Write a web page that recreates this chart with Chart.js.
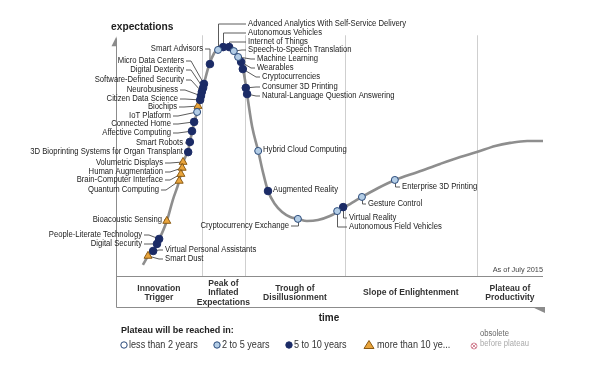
<!DOCTYPE html>
<html>
<head>
<meta charset="utf-8">
<script src="https://cdn.jsdelivr.net/npm/chart.js@4"></script>
<style>
  html, body { margin: 0; padding: 0; background: #fff; }
  canvas { display: block; }
</style>
</head>
<body>
<canvas id="hype" width="605" height="366"></canvas>
<script>
// hype curve (time 0-100, expectations 0-100)
const curveTime = [6.3,7.5,8.7,9.8,11.9,13.3,14.8,15.7,16.9,18.0,19.0,19.9,20.6,21.8,23.0,24.1,25.8,27.2,28.1,29.0,29.7,30.4,30.9,31.9,33.3,34.4,35.6,37.2,38.9,40.8,42.6,44.7,47.3,50.1,51.8,53.2,54.8,57.6,61.4,65.3,70.7,75.9,80.6,84.5,88.8,92.3,96.3,100];
const curveExpect = [4.7,8.5,11.0,14.4,23.3,32.2,40.3,47.9,53.4,62.7,69.5,75.8,81.4,89.4,94.5,96.6,97.5,96.6,94.5,91.5,88.1,80.9,74.6,63.1,53.0,44.1,36.0,30.5,27.1,25.0,24.2,23.3,23.7,25.4,27.1,28.8,30.5,33.5,37.3,40.7,44.1,47.5,50.4,52.5,55.1,56.4,57.2,57.2];

// technologies: name, position on curve, years to plateau (index into plateauClasses)
const techNames = [
  'Smart Advisors','Micro Data Centers','Digital Dexterity','Software-Defined Security','Neurobusiness',
  'Citizen Data Science','Biochips','IoT Platform','Connected Home','Affective Computing',
  'Smart Robots','3D Bioprinting Systems for Organ Transplant','Volumetric Displays','Human Augmentation','Brain-Computer Interface',
  'Quantum Computing','Bioacoustic Sensing','People-Literate Technology','Digital Security','Virtual Personal Assistants',
  'Smart Dust','Advanced Analytics With Self-Service Delivery','Autonomous Vehicles','Internet of Things','Speech-to-Speech Translation',
  'Machine Learning','Wearables','Cryptocurrencies','Consumer 3D Printing','Natural-Language Question Answering',
  'Hybrid Cloud Computing','Augmented Reality','Cryptocurrency Exchange','Autonomous Field Vehicles','Virtual Reality',
  'Gesture Control','Enterprise 3D Printing'
];
const techTime = [
  22.0,20.6,20.4,20.1,19.9, 19.7,19.2,19.0,18.3,17.8, 17.3,16.9,15.7,15.5,15.2,
  14.8,11.9,10.1,9.6,8.7, 7.5,23.9,25.1,26.5,27.6, 28.6,29.3,29.7,30.4,30.7,
  33.3,35.6,42.6,51.8,53.2, 57.6,65.3
];
const techExpect = [
  89.8,81.4,79.7,78.0,76.3, 74.6,72.0,69.5,65.3,61.4, 56.8,52.5,48.3,45.8,43.2,
  40.3,23.3,15.7,13.6,10.6, 8.5,95.8,97.0,97.0,95.3, 92.8,90.7,87.7,79.7,77.1,
  53.0,36.0,24.2,27.5,29.2, 33.5,40.7
];
const techPlateau = [
  2,2,2,2,2, 2,3,1,2,2, 2,2,3,3,3,
  3,3,2,2,2, 3,1,2,2,1, 1,2,2,2,2,
  1,2,1,1,2, 1,1
];

const plateauClasses = ['less than 2 years','2 to 5 years','5 to 10 years','more than 10 ye...'];
const phaseNames = [['Innovation','Trigger'],['Peak of','Inflated','Expectations'],['Trough of','Disillusionment'],['Slope of Enlightenment'],['Plateau of','Productivity']];
const phaseEnds = [20.1, 30.2, 53.6, 84.5, 100];

// styling
const NAVY = '#1b2b66';
const markerStyle = [
  { pointStyle: 'circle', radius: 3.3, bg: '#ffffff', border: '#2a4a7a' },
  { pointStyle: 'circle', radius: 3.5, bg: '#b3cde6', border: '#2a4a7a' },
  { pointStyle: 'circle', radius: 3.8, bg: NAVY, border: NAVY },
  { pointStyle: 'triangle', radius: 4.6, bg: '#eaa53c', border: '#8a5a14' }
];

// label placement in pixels: [kind, x, y]
const labelLayout = {
  'Smart Advisors': ['L', 203, 49],
  'Micro Data Centers': ['L', 184, 61],
  'Digital Dexterity': ['L', 184, 70],
  'Software-Defined Security': ['L', 184, 80],
  'Neurobusiness': ['L', 178, 90],
  'Citizen Data Science': ['L', 178, 99],
  'Biochips': ['L', 177, 107],
  'IoT Platform': ['L', 171, 116],
  'Connected Home': ['L', 171, 124],
  'Affective Computing': ['L', 171, 133],
  'Smart Robots': ['L', 183, 143],
  '3D Bioprinting Systems for Organ Transplant': ['L', 183, 152],
  'Volumetric Displays': ['L', 163, 163],
  'Human Augmentation': ['L', 163, 172],
  'Brain-Computer Interface': ['L', 163, 180],
  'Quantum Computing': ['L', 159, 190],
  'Bioacoustic Sensing': ['L', 162, 220],
  'People-Literate Technology': ['L', 142, 235],
  'Digital Security': ['L', 142, 244],
  'Virtual Personal Assistants': ['R', 165, 250],
  'Smart Dust': ['R', 165, 259],
  'Advanced Analytics With Self-Service Delivery': ['T', 248, 24],
  'Autonomous Vehicles': ['T', 248, 33],
  'Internet of Things': ['T', 248, 42],
  'Speech-to-Speech Translation': ['R', 248, 50],
  'Machine Learning': ['R', 257, 59],
  'Wearables': ['R', 257, 68],
  'Cryptocurrencies': ['R', 262, 77],
  'Consumer 3D Printing': ['R', 262, 87],
  'Natural-Language Question Answering': ['R', 262, 96],
  'Hybrid Cloud Computing': ['N', 263, 150],
  'Augmented Reality': ['N', 273, 190],
  'Cryptocurrency Exchange': ['LU', 289, 226],
  'Autonomous Field Vehicles': ['D', 349, 227],
  'Virtual Reality': ['D', 349, 218],
  'Gesture Control': ['D', 368, 204],
  'Enterprise 3D Printing': ['D', 402, 187]
};

const FONT = "'Liberation Sans', Arial, sans-serif";

function txt(ctx, s, x, y, align, font, sx, color) {
  ctx.save();
  ctx.font = font;
  ctx.fillStyle = color || '#222';
  ctx.textBaseline = 'middle';
  ctx.textAlign = 'left';
  const w = ctx.measureText(s).width * sx;
  const x0 = align === 'right' ? x - w : align === 'center' ? x - w / 2 : x;
  ctx.translate(x0, y);
  ctx.scale(sx, 1);
  ctx.fillText(s, 0, 0);
  ctx.restore();
}

function polyline(ctx, pts) {
  ctx.beginPath();
  ctx.moveTo(pts[0][0], pts[0][1]);
  for (let i = 1; i < pts.length; i++) ctx.lineTo(pts[i][0], pts[i][1]);
  ctx.stroke();
}

const hypeDecor = {
  id: 'hypeDecor',
  beforeDatasetsDraw(chart) {
    const { ctx, scales: { x, y } } = chart;
    const x0 = x.getPixelForValue(0), x1 = x.getPixelForValue(100);
    const yTop = y.getPixelForValue(102), yBase = y.getPixelForValue(0);
    const boxBottom = yBase + 31;

    ctx.save();
    // phase separators
    ctx.strokeStyle = '#cfcfcf';
    ctx.lineWidth = 1;
    phaseEnds.slice(0, -1).forEach(t => {
      const px = Math.round(x.getPixelForValue(t)) + 0.5;
      polyline(ctx, [[px, yTop], [px, yBase]]);
    });

    // axis + phase box
    ctx.strokeStyle = '#8c8c8c';
    const ax = Math.round(x0) + 0.5;
    polyline(ctx, [[ax, yTop + 3], [ax, boxBottom + 0.5]]);
    polyline(ctx, [[ax, Math.round(yBase) + 0.5], [x1, Math.round(yBase) + 0.5]]);
    polyline(ctx, [[ax, boxBottom + 0.5], [x1 + 1, boxBottom + 0.5]]);
    ctx.fillStyle = '#8c8c8c';
    ctx.beginPath();
    ctx.moveTo(ax, yTop + 1); ctx.lineTo(ax, yTop + 11); ctx.lineTo(ax - 5, yTop + 11); ctx.closePath(); ctx.fill();
    ctx.beginPath();
    ctx.moveTo(x1 - 11, boxBottom); ctx.lineTo(x1 + 2, boxBottom); ctx.lineTo(x1 + 2, boxBottom + 6); ctx.closePath(); ctx.fill();

    // phase names
    let prev = 0;
    phaseNames.forEach((lines, i) => {
      const cx = (x.getPixelForValue(prev) + x.getPixelForValue(phaseEnds[i])) / 2;
      const mid = yBase + 17;
      lines.forEach((s, k) => {
        txt(ctx, s, cx, mid + (k - (lines.length - 1) / 2) * 9.5, 'center', 'bold 9px ' + FONT, 0.95, '#333');
      });
      prev = phaseEnds[i];
    });

    // axis titles and notes
    txt(ctx, 'expectations', 111, 27, 'left', 'bold 11px ' + FONT, 0.93, '#222');
    txt(ctx, 'time', 329, 318, 'center', 'bold 10.5px ' + FONT, 0.95, '#222');
    txt(ctx, 'As of July 2015', x1, 270, 'right', '8px ' + FONT, 0.92, '#444');

    // leader lines
    ctx.strokeStyle = '#4a4a4a';
    ctx.lineWidth = 0.9;
    techNames.forEach((name, i) => {
      const [kind, lx, ly] = labelLayout[name];
      const px = x.getPixelForValue(techTime[i]);
      const py = y.getPixelForValue(techExpect[i]);
      if (kind === 'L') polyline(ctx, [[lx + 2, ly], [lx + 7, ly], [px, py]]);
      else if (kind === 'R') polyline(ctx, [[lx - 2, ly], [lx - 6, ly], [px, py]]);
      else if (kind === 'T') polyline(ctx, [[lx - 2, ly], [Math.round(px) + 0.5, ly], [Math.round(px) + 0.5, py]]);
      else if (kind === 'D') polyline(ctx, [[Math.round(px) + 0.5, py], [Math.round(px) + 0.5, ly], [lx - 2, ly]]);
      else if (kind === 'LU') polyline(ctx, [[lx + 2, ly], [Math.round(px) + 0.5, ly], [Math.round(px) + 0.5, py]]);
    });

    // labels
    techNames.forEach(name => {
      const [kind, lx, ly] = labelLayout[name];
      const align = (kind === 'L' || kind === 'LU') ? 'right' : 'left';
      txt(ctx, name, lx, ly, align, '8.5px ' + FONT, 0.905, '#222');
    });

    // legend
    txt(ctx, 'Plateau will be reached in:', 121, 330, 'left', 'bold 9.5px ' + FONT, 0.95, '#222');
    const legendX = [124, 217, 289, 369];
    plateauClasses.forEach((s, i) => {
      const st = markerStyle[i];
      const lx = legendX[i], ly = 345;
      ctx.fillStyle = st.bg;
      ctx.strokeStyle = st.border;
      ctx.lineWidth = 1;
      ctx.beginPath();
      if (st.pointStyle === 'triangle') {
        ctx.moveTo(lx, ly - 4.5); ctx.lineTo(lx + 5, ly + 3.5); ctx.lineTo(lx - 5, ly + 3.5); ctx.closePath();
      } else {
        ctx.arc(lx, ly, 3.2, 0, Math.PI * 2);
      }
      ctx.fill(); ctx.stroke();
      txt(ctx, s, lx + (st.pointStyle === 'triangle' ? 8 : 5), ly, 'left', '10px ' + FONT, 0.91, '#333');
    });
    // obsolete marker
    ctx.strokeStyle = '#d58a9a';
    ctx.beginPath(); ctx.arc(474, 346, 3, 0, Math.PI * 2); ctx.stroke();
    polyline(ctx, [[472, 344], [476, 348]]);
    polyline(ctx, [[476, 344], [472, 348]]);
    txt(ctx, 'obsolete', 480, 334, 'left', '8.5px ' + FONT, 0.9, '#666');
    txt(ctx, 'before plateau', 480, 344, 'left', '8.5px ' + FONT, 0.9, '#aaa');
    ctx.restore();
  }
};

function markerData(cls) {
  const pts = [];
  techNames.forEach((n, i) => {
    if (techPlateau[i] === cls) pts.push({ x: techTime[i], y: techExpect[i] });
  });
  return pts;
}

const datasets = markerStyle.map((st, cls) => ({
  label: plateauClasses[cls],
  data: markerData(cls),
  pointStyle: st.pointStyle,
  pointRadius: st.radius,
  pointBackgroundColor: st.bg,
  pointBorderColor: st.border,
  pointBorderWidth: 1,
  showLine: false,
  order: 0
}));

datasets.push({
  label: 'Hype Cycle',
  data: curveTime.map((t, i) => ({ x: t, y: curveExpect[i] })),
  showLine: true,
  borderColor: '#8e8e8e',
  borderWidth: 2.6,
  pointRadius: 0,
  cubicInterpolationMode: 'monotone',
  fill: false,
  order: 1
});

new Chart(document.getElementById('hype').getContext('2d'), {
  type: 'scatter',
  data: { datasets },
  options: {
    responsive: false,
    animation: false,
    layout: { padding: { left: 116, right: 62, top: 40, bottom: 90 } },
    scales: {
      x: { type: 'linear', min: 0, max: 100, display: false },
      y: { type: 'linear', min: 0, max: 100, display: false }
    },
    plugins: {
      legend: { display: false },
      tooltip: { enabled: false }
    }
  },
  plugins: [hypeDecor]
});
</script>
</body>
</html>
